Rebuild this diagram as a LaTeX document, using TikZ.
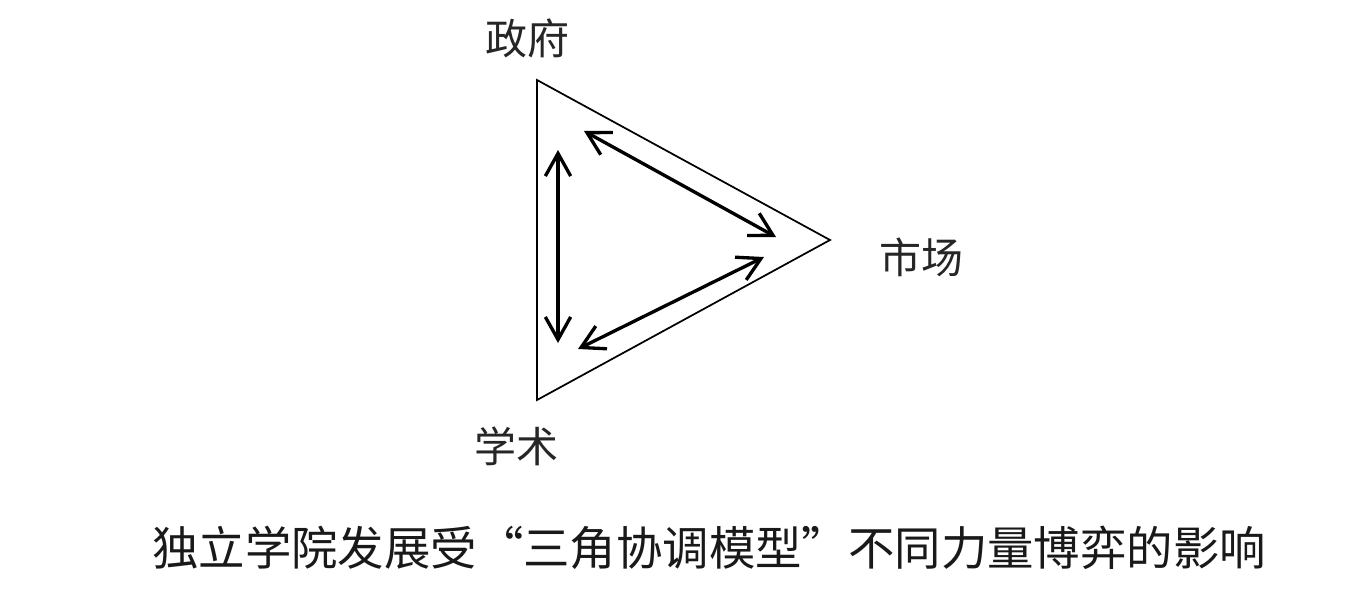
\documentclass[tikz,border=0pt]{standalone}
\usepackage{fontspec}
\newfontfamily\cjk{Noto Sans CJK SC}
\usetikzlibrary{arrows.meta}
\tikzset{
  lbl/.style={font=\cjk\fontsize{31.5}{36}\selectfont, text=black!85, inner sep=0pt},
  captiontext/.style={font=\cjk\fontsize{34.8}{40}\selectfont, text=black!90, inner sep=0pt},
  tri/.style={line width=1.3pt, line join=miter},
  dbl/.style={line width=2.5pt, {Straight Barb[length=17pt,width=19pt,line width=2.5pt]}-{Straight Barb[length=17pt,width=19pt,line width=2.5pt]}}
}
\begin{document}
\begin{tikzpicture}[x=0.75pt,y=-0.75pt]
\useasboundingbox (0,0) rectangle (1356,596);
\fill[white] (0,0) rectangle (1356,596);
\coordinate (G) at (537,80);
\coordinate (M) at (830,240);
\coordinate (A) at (537,400);
\draw[tri] (G) -- (M) -- (A) -- cycle;
\coordinate (v1) at (558,150);
\coordinate (v2) at (558,343);
\coordinate (t1) at (584,131);
\coordinate (t2) at (776,237);
\coordinate (b1) at (764,257);
\coordinate (b2) at (578,349);
\draw[dbl] (v1) -- (v2);
\draw[dbl] (t1) -- (t2);
\draw[dbl] (b1) -- (b2);
\node[lbl] (gov) at (527,38) {政府};
\node[lbl] (mkt) at (921,257) {市场};
\node[lbl] (aca) at (516,446) {学术};
\node[captiontext] (title) at (709,548) {独立学院发展受“三角协调模型”不同力量博弈的影响};
\end{tikzpicture}
\end{document}
